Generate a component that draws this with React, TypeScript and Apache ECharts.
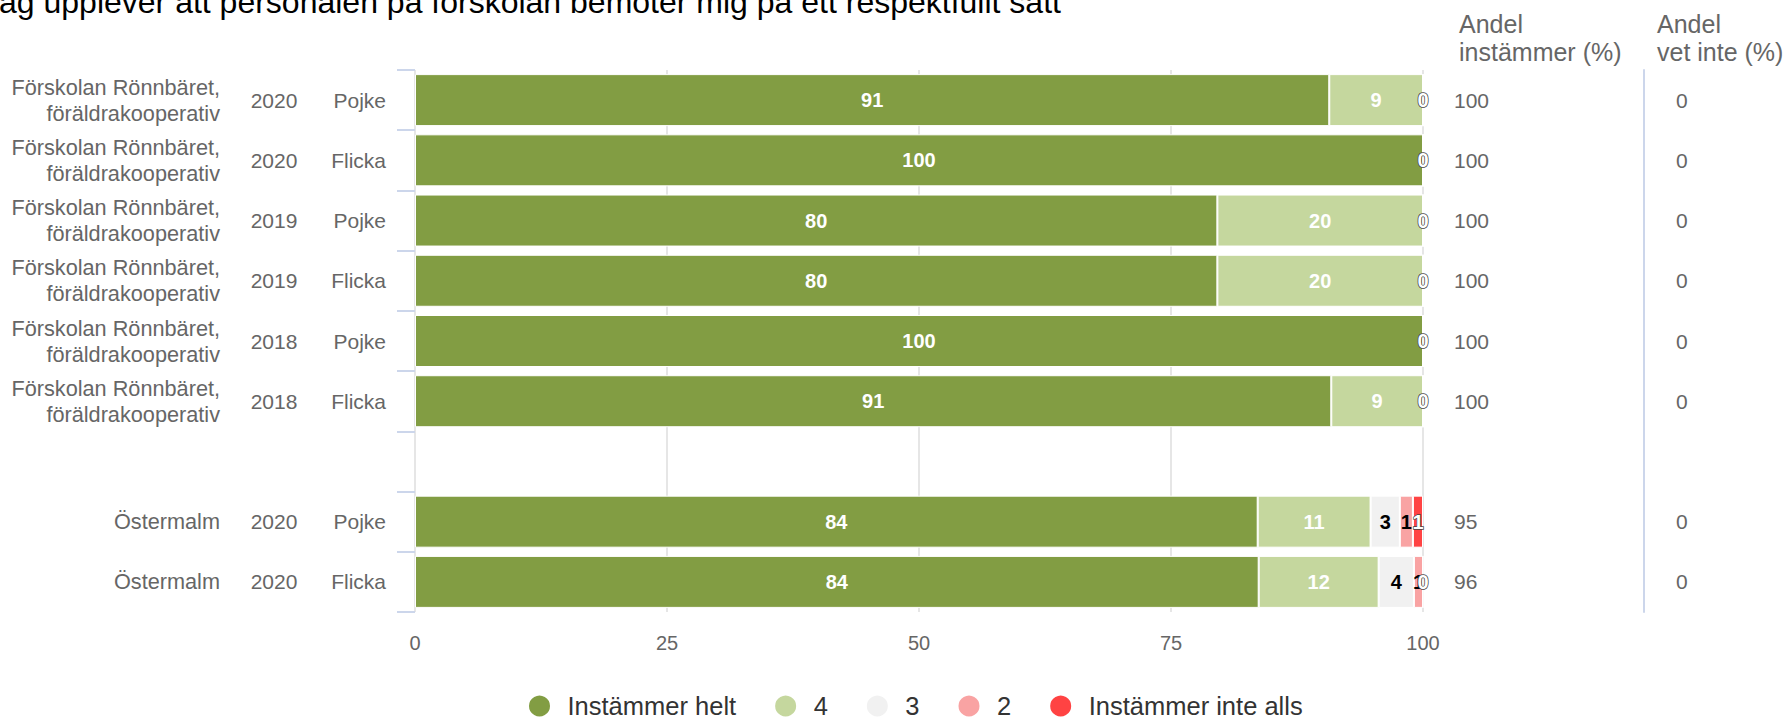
import React, { useEffect, useRef } from "react";
import * as echarts from "echarts";

const TITLE = "Jag upplever att personalen på förskolan bemöter mig på ett respektfullt sätt";
const HEADER_INSTAMMER = "Andel\ninstämmer (%)";
const HEADER_VETINTE = "Andel\nvet inte (%)";

const rowKeys = ["r1", "r2", "r3", "r4", "r5", "r6", "gap", "r7", "r8"];
const schools = [
  "Förskolan Rönnbäret,\nföräldrakooperativ",
  "Förskolan Rönnbäret,\nföräldrakooperativ",
  "Förskolan Rönnbäret,\nföräldrakooperativ",
  "Förskolan Rönnbäret,\nföräldrakooperativ",
  "Förskolan Rönnbäret,\nföräldrakooperativ",
  "Förskolan Rönnbäret,\nföräldrakooperativ",
  "",
  "Östermalm",
  "Östermalm",
];
const years = ["2020", "2020", "2019", "2019", "2018", "2018", "", "2020", "2020"];
const genders = ["Pojke", "Flicka", "Pojke", "Flicka", "Pojke", "Flicka", "", "Pojke", "Flicka"];

const seriesNames = ["Instämmer helt", "4", "3", "2", "Instämmer inte alls"];
const helt = [90.7, 100, 79.6, 79.6, 100, 90.9, null, 83.6, 83.7];
const fyra = [9.3, 0, 20.4, 20.4, 0, 9.1, null, 11.2, 11.9];
const tre = [0, 0, 0, 0, 0, 0, null, 2.9, 3.5];
const tva = [0, 0, 0, 0, 0, 0, null, 1.3, 0.9];
const inteAlls = [0, 0, 0, 0, 0, 0, null, 1.0, 0];

const andelInstammer = ["100", "100", "100", "100", "100", "100", "", "95", "96"];
const andelVetInte = ["0", "0", "0", "0", "0", "0", "", "0", "0"];

const xTicks = [0, 25, 50, 75, 100];

const colors = ["#829D43", "#C5D79E", "#F1F1F1", "#F9A3A3", "#FF4343"];
const labelColors = ["#ffffff", "#ffffff", "#000000", "#000000", "#ffffff"];

export default function App() {
  const ref = useRef<HTMLDivElement>(null);

  useEffect(() => {
    if (!ref.current) return;
    const chart = echarts.init(ref.current, null, { renderer: "svg" });
    const seriesData = [helt, fyra, tre, tva, inteAlls];

    const labelFont = "'Liberation Sans', Arial, sans-serif";

    const baseCatAxis = (extra: any) => ({
      type: "category",
      data: rowKeys,
      inverse: true,
      gridIndex: 0,
      axisLine: { show: false },
      axisTick: { show: false },
      splitLine: { show: false },
      ...extra,
    });

    const option: any = {
      animation: false,
      backgroundColor: "#ffffff",
      textStyle: { fontFamily: labelFont },
      grid: {
        left: 415,
        right: 360,
        top: 70,
        bottom: 109,
        containLabel: false,
        outerBoundsMode: "none",
      },
      legend: {
        bottom: -3,
        left: 522,
        icon: "circle",
        itemWidth: 46,
        itemHeight: 23,
        itemGap: 37,
        textStyle: { fontSize: 25.5, color: "#333333", fontFamily: labelFont },
        data: seriesNames,
      },
      xAxis: {
        type: "value",
        min: xTicks[0],
        max: xTicks[xTicks.length - 1],
        interval: 25,
        axisLine: { show: false },
        axisTick: { show: false },
        splitLine: { show: true, lineStyle: { color: "#e6e6e6", width: 2 } },
        axisLabel: { fontSize: 20, color: "#666666", margin: 21, fontFamily: labelFont },
      },
      yAxis: [
        baseCatAxis({
          position: "left",
          axisTick: {
            show: true,
            length: 18,
            interval: 0,
            lineStyle: { color: "#ccd6eb", width: 2 },
          },
          axisLabel: {
            interval: 0,
            margin: 195,
            align: "right",
            fontSize: 21.7,
            lineHeight: 26,
            color: "#666666",
            fontFamily: labelFont,
            formatter: (_v: string, i: number) => schools[i],
          },
        }),
        baseCatAxis({
          position: "left",
          axisLabel: {
            interval: 0,
            margin: 141,
            align: "center",
            fontSize: 21,
            color: "#666666",
            fontFamily: labelFont,
            formatter: (_v: string, i: number) => years[i],
          },
        }),
        baseCatAxis({
          position: "left",
          axisLabel: {
            interval: 0,
            margin: 29,
            align: "right",
            fontSize: 21,
            color: "#666666",
            fontFamily: labelFont,
            formatter: (_v: string, i: number) => genders[i],
          },
        }),
        baseCatAxis({
          position: "right",
          axisLabel: {
            interval: 0,
            margin: 31,
            align: "left",
            fontSize: 21,
            color: "#666666",
            fontFamily: labelFont,
            formatter: (_v: string, i: number) => andelInstammer[i],
          },
        }),
        baseCatAxis({
          position: "right",
          offset: 221,
          axisLine: { show: true, lineStyle: { color: "#ccd6eb", width: 2 } },
          axisLabel: {
            interval: 0,
            margin: 32,
            align: "left",
            fontSize: 21,
            color: "#666666",
            fontFamily: labelFont,
            formatter: (_v: string, i: number) => andelVetInte[i],
          },
        }),
      ],
      graphic: [
        {
          type: "text",
          left: -17,
          top: -14,
          style: {
            text: TITLE,
            fontSize: 32,
            fill: "#000000",
            fontFamily: labelFont,
          },
        },
        {
          type: "text",
          x: 1459,
          y: 10,
          style: {
            text: HEADER_INSTAMMER,
            fontSize: 25,
            lineHeight: 28,
            fill: "#666666",
            fontFamily: labelFont,
            verticalAlign: "top",
          },
        },
        {
          type: "text",
          x: 1657,
          y: 10,
          style: {
            text: HEADER_VETINTE,
            fontSize: 25,
            lineHeight: 28,
            fill: "#666666",
            fontFamily: labelFont,
            verticalAlign: "top",
          },
        },
      ],
      series: seriesNames.map((name, si) => ({
        name,
        type: "bar",
        stack: "total",
        yAxisIndex: 0,
        barWidth: 52,
        itemStyle: { color: colors[si], borderColor: "#ffffff", borderWidth: 1 },
        label: {
          show: true,
          position: "inside",
          fontSize: 20,
          fontWeight: "bold",
          color: labelColors[si],
          fontFamily: labelFont,
          textBorderColor: si === 4 ? "#444444" : "transparent",
          textBorderWidth: si === 4 ? 1.5 : 0,
          formatter: (p: any) => {
            const v = p.value;
            if (v === null || v === undefined || v === "-") return "";
            if (v === 0 && si !== 4) return "";
            return String(Math.round(v));
          },
        },
        data: seriesData[si].map((v) => (v === null ? "-" : v)),
      })),
    };

    chart.setOption(option);
    return () => chart.dispose();
  }, []);

  return (
    <div
      ref={ref}
      style={{ position: "fixed", left: 0, top: 0, width: 1783, height: 721 }}
    />
  );
}
